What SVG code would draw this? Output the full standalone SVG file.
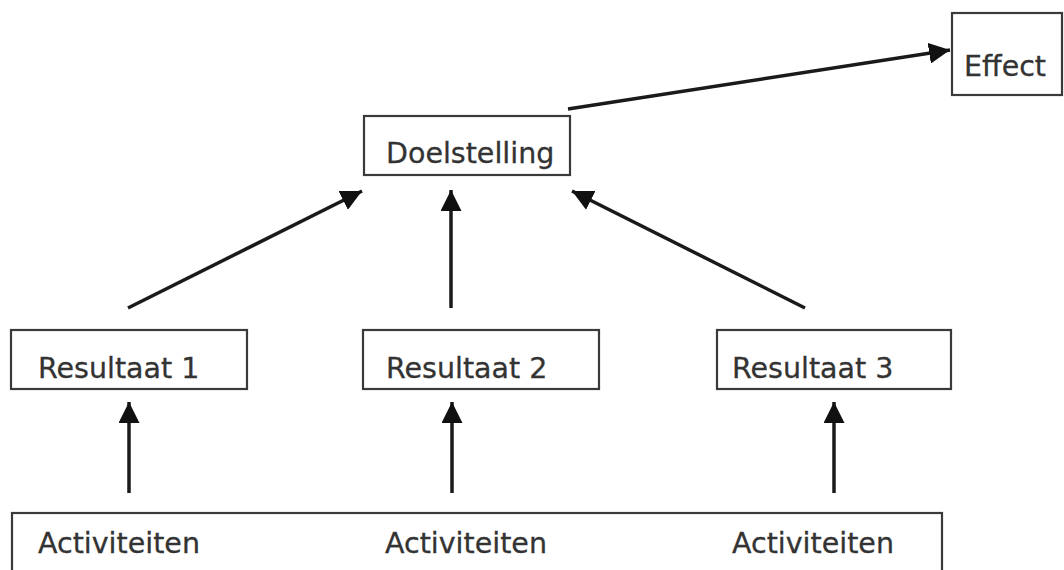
<svg xmlns="http://www.w3.org/2000/svg" width="1064" height="570" viewBox="0 0 1064 570">
<style>
.box{fill:#fff;stroke:#3a3a3a;stroke-width:2.2}
.t{font-family:"DejaVu Sans",Verdana,sans-serif;font-size:28.5px;fill:#333;stroke:#333;stroke-width:0.3}
.c{stroke:#1a1a1a;stroke-width:3.5;fill:none;marker-end:url(#ah)}
</style>
<defs>
<marker id="ah" viewBox="0 0 10 10" refX="10" refY="5" markerWidth="6" markerHeight="6" markerUnits="strokeWidth" orient="auto">
<path d="M0,0 L10,5 L0,10 z" fill="#111"/>
</marker>
</defs>
<rect width="1064" height="570" fill="#fff"/>
<g id="connectors">
<line class="c" x1="568" y1="109" x2="950" y2="50"/>
<line class="c" x1="128" y1="308" x2="362" y2="191"/>
<line class="c" x1="451" y1="308" x2="451" y2="190"/>
<line class="c" x1="805" y1="308" x2="572" y2="191"/>
<line class="c" x1="129" y1="493" x2="129" y2="402"/>
<line class="c" x1="452" y1="493" x2="452" y2="402"/>
<line class="c" x1="834" y1="493" x2="834" y2="402"/>
</g>
<g id="effect"><rect class="box" x="952" y="13" width="110" height="82"/><text class="t" x="964" y="76">Effect</text></g>
<g id="doelstelling"><rect class="box" x="364" y="116" width="206" height="59"/><text class="t" x="386" y="163">Doelstelling</text></g>
<g id="resultaat1"><rect class="box" x="11" y="330" width="236" height="59"/><text class="t" x="38" y="378">Resultaat 1</text></g>
<g id="resultaat2"><rect class="box" x="363" y="330" width="236" height="59"/><text class="t" x="386" y="378">Resultaat 2</text></g>
<g id="resultaat3"><rect class="box" x="717" y="330" width="234" height="59"/><text class="t" x="732" y="378">Resultaat 3</text></g>
<g id="activiteiten"><rect class="box" x="12" y="513" width="930" height="70"/>
<text class="t" x="38" y="553">Activiteiten</text>
<text class="t" x="385" y="553">Activiteiten</text>
<text class="t" x="732" y="553">Activiteiten</text></g>
</svg>
